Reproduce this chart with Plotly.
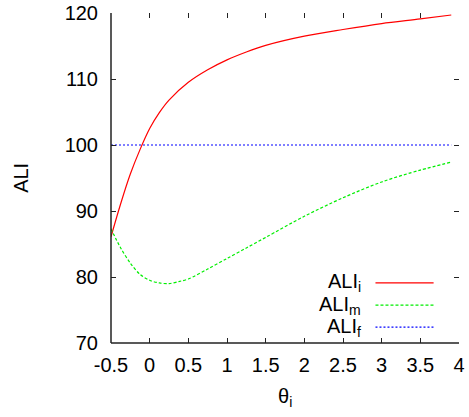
import plotly.graph_objects as go

# ALI_i (red, solid)
x_i = [-0.5, -0.375, -0.25, -0.125, 0.0, 0.125, 0.25, 0.5, 0.75, 1.0, 1.25, 1.5, 2.0, 2.5, 3.0, 3.5, 3.9]
y_i = [86.1, 91.1, 95.6, 99.3, 102.5, 104.9, 106.8, 109.5, 111.4, 112.9, 114.1, 115.1, 116.5, 117.5, 118.4, 119.1, 119.7]

# ALI_m (green, dashed)
x_m = [-0.5, -0.375, -0.25, -0.125, 0.0, 0.125, 0.25, 0.375, 0.5, 0.75, 1.0, 1.25, 1.5, 2.0, 2.5, 3.0, 3.5, 3.9]
y_m = [87.3, 84.4, 82.1, 80.4, 79.5, 79.1, 79.0, 79.3, 79.7, 81.2, 82.8, 84.4, 86.0, 89.2, 92.0, 94.4, 96.2, 97.4]

# ALI_f (blue, dotted)
x_f = [-0.5, 3.9]
y_f = [100, 100]

x_ticks = [-0.5, 0, 0.5, 1, 1.5, 2, 2.5, 3, 3.5, 4]
x_labels = ["-0.5", "0", "0.5", "1", "1.5", "2", "2.5", "3", "3.5", "4"]
y_ticks = [70, 80, 90, 100, 110, 120]

names = ["ALI<sub>i</sub>", "ALI<sub>m</sub>", "ALI<sub>f</sub>"]
colors = ["#ff0000", "#00ee00", "#0000ff"]
dashes = ["solid", "3px,2px", "2px,2px"]

FONT = "Liberation Sans, Arial, sans-serif"
FS = 20

fig = go.Figure()
for xs, ys, c, d in zip([x_i, x_m, x_f], [y_i, y_m, y_f], colors, dashes):
    fig.add_trace(go.Scatter(x=xs, y=ys, mode="lines",
                             line=dict(color=c, width=1.2, dash=d, shape="spline", smoothing=0.9),
                             showlegend=False, hoverinfo="skip"))

# manual gnuplot-style legend (text right, sample line to the right)
leg_y = [0.182, 0.115, 0.048]
for name, c, d, ly in zip(names, colors, dashes, leg_y):
    fig.add_annotation(x=0.725, y=ly, xref="paper", yref="paper", text=name,
                       showarrow=False, xanchor="right", yanchor="middle",
                       font=dict(family=FONT, size=FS, color="black"))
    fig.add_shape(type="line", xref="paper", yref="paper", x0=0.76, x1=0.927, y0=ly, y1=ly,
                  line=dict(color=c, width=1.2, dash=d))

# axis titles
fig.add_annotation(x=0.5, y=-0.165, xref="paper", yref="paper", text="θ<sub>i</sub>",
                   showarrow=False, xanchor="center", yanchor="middle",
                   font=dict(family=FONT, size=FS, color="black"))
fig.add_annotation(x=-0.259, y=0.5, xref="paper", yref="paper", text="ALI", textangle=-90,
                   showarrow=False, xanchor="center", yanchor="middle",
                   font=dict(family=FONT, size=FS, color="black"))

# left and bottom border lines
fig.add_shape(type="line", xref="paper", yref="paper", x0=0, x1=0, y0=0, y1=1,
              line=dict(color="#222222", width=1.5))
fig.add_shape(type="line", xref="paper", yref="paper", x0=0, x1=1, y0=0, y1=0,
              line=dict(color="#222222", width=1.5))

fig.update_layout(
    width=469, height=417,
    margin=dict(l=111, r=10, t=13, b=74),
    paper_bgcolor="white", plot_bgcolor="white",
    font=dict(family=FONT, size=FS, color="black"),
    xaxis=dict(range=[-0.5, 4], tickvals=x_ticks, ticktext=x_labels,
               ticks="inside", ticklen=5, tickwidth=1, tickcolor="#222222",
               showline=False, mirror="ticks", showgrid=False, zeroline=False,
               automargin=False, ticklabelstandoff=8, ticklabeloverflow="allow",
               tickfont=dict(family=FONT, size=FS)),
    yaxis=dict(range=[70, 120], tickvals=y_ticks,
               ticks="inside", ticklen=5, tickwidth=1, tickcolor="#222222",
               showline=False, mirror="ticks", showgrid=False, zeroline=False,
               automargin=False, ticklabelstandoff=12, ticklabeloverflow="allow",
               tickfont=dict(family=FONT, size=FS)),
)

fig.write_html("out.html", config={"displayModeBar": False},
               post_script="document.body.style.margin='0';document.body.style.overflow='hidden';")
